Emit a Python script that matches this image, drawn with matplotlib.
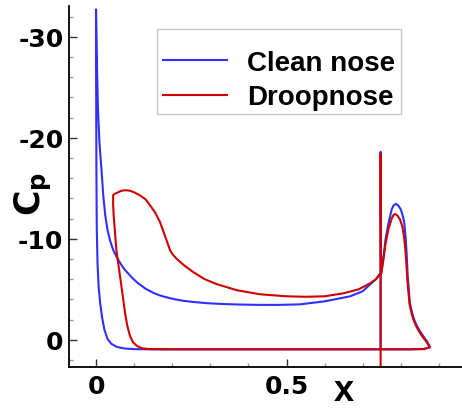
import matplotlib
matplotlib.use("Agg")
import matplotlib.pyplot as plt
from matplotlib.ticker import MultipleLocator, FixedLocator
from matplotlib.patches import Rectangle

plt.rcParams['mathtext.fontset'] = 'dejavusans'

# clean nose, main element (lower surface TE -> LE -> upper surface TE)
clean_main_x = [0.745, 0.5, 0.3, 0.14, 0.1, 0.075, 0.055, 0.04, 0.03, 0.022, 0.016, 0.011, 0.007, 0.004, 0.002, 0.001, 0.0003,
                0.0, 0.002, 0.005, 0.009, 0.012, 0.015, 0.019, 0.024, 0.03, 0.037, 0.045, 0.054, 0.065, 0.075, 0.087,
                0.097, 0.11, 0.13, 0.15, 0.168, 0.19, 0.21, 0.23, 0.255, 0.29, 0.33, 0.38, 0.43, 0.48, 0.535, 0.6,
                0.667, 0.70, 0.72, 0.735, 0.745]
clean_main_cp = [0.95, 0.95, 0.95, 0.95, 0.93, 0.87, 0.72, 0.4, -0.1, -1.0, -2.2, -3.6, -5.2, -7.5, -11, -17, -26,
                 -32.7, -28, -23, -19.5, -18.0, -16.5, -14.3, -12.4, -10.9, -9.8, -8.9, -8.2, -7.5, -6.95, -6.45,
                 -6.05, -5.6, -5.05, -4.65, -4.38, -4.15, -3.98, -3.85, -3.74, -3.62, -3.54, -3.48, -3.45, -3.45, -3.5, -3.8,
                 -4.3, -4.8, -5.5, -6.0, -6.5]

# clean nose, flap
clean_flap_x = [0.747, 0.747, 0.748, 0.752, 0.756, 0.760, 0.768, 0.776, 0.781, 0.787, 0.793, 0.800, 0.805, 0.809,
                0.813, 0.816, 0.818, 0.821, 0.824, 0.83, 0.836, 0.842, 0.85, 0.86, 0.87, 0.877, 0.86, 0.82, 0.747]
clean_flap_cp = [0.95, -18.6, -6.5, -7.5, -8.7, -9.97, -11.6, -12.9, -13.3, -13.45, -13.3, -12.9, -12.3, -11.6,
                 -9.97, -8.0, -6.4, -4.9, -3.6, -2.6, -1.9, -1.4, -0.85, -0.3, 0.25, 0.75, 0.92, 0.95, 0.95]

# droopnose, main element
droop_main_x = [0.745, 0.4, 0.2, 0.142, 0.12, 0.107, 0.097, 0.089, 0.082, 0.076, 0.07, 0.063, 0.054, 0.05, 0.046,
                0.045, 0.045, 0.047, 0.055, 0.067, 0.078, 0.089, 0.10, 0.115, 0.13, 0.142, 0.155, 0.168, 0.18, 0.194,
                0.20, 0.212, 0.23, 0.255, 0.285, 0.317, 0.37, 0.43, 0.5, 0.55, 0.6, 0.65, 0.69, 0.72, 0.735, 0.745]
droop_main_cp = [0.95, 0.95, 0.95, 0.93, 0.85, 0.6, 0.25, -0.4, -1.4, -2.7, -4.4, -6.3, -8.7, -10.5, -12.5,
                 -13.4, -14.3, -14.4, -14.55, -14.75, -14.8, -14.75, -14.6, -14.3, -13.9, -13.3, -12.6, -11.65, -10.4, -8.9,
                 -8.5, -8.0, -7.4, -6.7, -6.0, -5.5, -4.9, -4.5, -4.3, -4.25, -4.3, -4.6, -5.0, -5.6, -6.0, -6.5]

# droopnose, flap
droop_flap_x = [0.747, 0.747, 0.748, 0.752, 0.756, 0.760, 0.768, 0.776, 0.781, 0.785, 0.791, 0.798, 0.804, 0.808,
                0.812, 0.815, 0.817, 0.820, 0.823, 0.829, 0.835, 0.841, 0.849, 0.859, 0.869, 0.876, 0.86, 0.82, 0.747]
droop_flap_cp = [3.5, -18.4, -6.5, -7.3, -8.4, -9.5, -11.0, -12.0, -12.35, -12.45, -12.3, -11.9, -11.2, -10.3,
                 -8.9, -7.3, -6.0, -4.7, -3.5, -2.5, -1.8, -1.3, -0.75, -0.2, 0.3, 0.75, 0.92, 0.95, 0.95]

blue = '#2f2fff'
red = '#d00000'

fig = plt.figure(figsize=(4.62, 4.10), dpi=100)
ax = fig.add_axes([69/462, 42/410, 393/462, 361/410])

ax.plot(clean_main_x, clean_main_cp, color=blue, lw=1.5, label='Clean nose')
ax.plot(clean_flap_x, clean_flap_cp, color=blue, lw=1.5)
ax.plot(droop_main_x, droop_main_cp, color=red, lw=1.5, label='Droopnose')
ax.plot(droop_flap_x, droop_flap_cp, color=red, lw=1.5)

ax.set_xlim(-0.0709, 0.9606)
ax.set_ylim(2.7, -33.04)

ax.spines['top'].set_visible(False)
ax.spines['right'].set_visible(False)
for s in ['left', 'bottom']:
    ax.spines[s].set_linewidth(1.3)

ax.xaxis.set_major_locator(FixedLocator([0, 0.5]))
ax.xaxis.set_minor_locator(MultipleLocator(0.1))
ax.yaxis.set_major_locator(FixedLocator([-30, -20, -10, 0]))
ax.yaxis.set_minor_locator(MultipleLocator(2))
ax.set_xticklabels(['0', '0.5'])
ax.set_yticklabels(['-30', '-20', '-10', '0'])
ax.tick_params(which='both', direction='in', top=False, right=False, width=1.0, color='#333333')
ax.tick_params(which='major', length=6)
ax.tick_params(which='minor', length=3, color='#999999')
ax.tick_params(axis='y', which='major', pad=4)
ax.tick_params(axis='x', which='major', pad=5)
for lab in ax.get_xticklabels() + ax.get_yticklabels():
    lab.set_fontfamily('DejaVu Sans')
    lab.set_fontweight('bold')
    lab.set_fontsize(18)

fig.text(344/462, 1/410, 'x', family='Liberation Sans', weight='bold', fontsize=26, ha='center', va='bottom')
fig.text(33/462, 1 - 194/410, r'$\mathbf{C_p}$', fontsize=25, rotation=90, ha='center', va='center')

fig.patches.append(Rectangle((157/462, 1 - 115/410), 244/462, 85/410, transform=fig.transFigure,
                             fill=False, edgecolor='#c8c8c8', lw=1.0))
leg = ax.legend(loc='upper left', bbox_to_anchor=(163/462, 1 - 51/410), bbox_transform=fig.transFigure,
                frameon=False, borderpad=0, borderaxespad=0, handlelength=2.3, handletextpad=0.72,
                labelspacing=0.3, prop={'family': 'Liberation Sans', 'weight': 'bold', 'size': 20})

fig.savefig('out.png', dpi=100)
